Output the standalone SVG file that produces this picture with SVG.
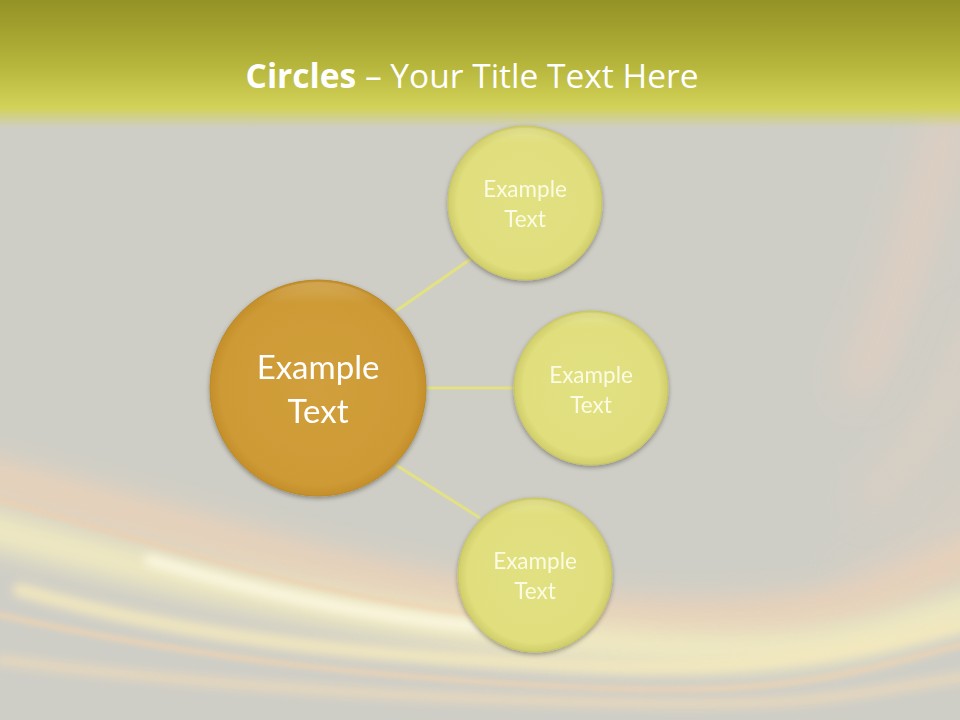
<svg xmlns="http://www.w3.org/2000/svg" width="960" height="720" viewBox="0 0 960 720">
<style>
.t{font-family:Lato,"Open Sans","Liberation Sans",sans-serif;fill:#ffffff;text-anchor:middle}
.big{font-size:33px}
.sm{font-size:22.5px;fill:#fbfbe4}
.conn{stroke:#e3e283;stroke-width:3;fill:none}
.sw{fill:none;stroke-linecap:round}
</style>
<defs>
<linearGradient id="hdr" x1="0" y1="0" x2="0" y2="1">
<stop offset="0" stop-color="#939225"/>
<stop offset="0.5" stop-color="#b5b43b"/>
<stop offset="0.84" stop-color="#d2d258"/>
<stop offset="1" stop-color="#d2d258" stop-opacity="0"/>
</linearGradient>
<radialGradient id="gOr" cx="0.5" cy="0.5" r="0.5">
<stop offset="0" stop-color="#d19f3c"/>
<stop offset="0.9" stop-color="#cd9a35"/>
<stop offset="1" stop-color="#c58f2a"/>
</radialGradient>
<radialGradient id="gYl" cx="0.5" cy="0.5" r="0.5">
<stop offset="0" stop-color="#e2e182"/>
<stop offset="0.88" stop-color="#e0de7d"/>
<stop offset="1" stop-color="#d0ce6a"/>
</radialGradient>
<linearGradient id="hl" x1="0" y1="0" x2="0" y2="1">
<stop offset="0" stop-color="#ffffff" stop-opacity="0.18"/>
<stop offset="0.1" stop-color="#ffffff" stop-opacity="0"/>
<stop offset="1" stop-color="#ffffff" stop-opacity="0"/>
</linearGradient>
<filter id="sh" x="-20%" y="-20%" width="140%" height="140%">
<feGaussianBlur in="SourceAlpha" stdDeviation="2.5"/>
<feOffset dx="0" dy="2"/>
<feComponentTransfer><feFuncA type="linear" slope="0.35"/></feComponentTransfer>
<feMerge><feMergeNode/><feMergeNode in="SourceGraphic"/></feMerge>
</filter>
<filter id="b12" filterUnits="userSpaceOnUse" x="-100" y="0" width="1160" height="820"><feGaussianBlur stdDeviation="12"/></filter>
<filter id="b18" filterUnits="userSpaceOnUse" x="-100" y="0" width="1160" height="820"><feGaussianBlur stdDeviation="18"/></filter>
<filter id="b5" filterUnits="userSpaceOnUse" x="-100" y="0" width="1160" height="820"><feGaussianBlur stdDeviation="5"/></filter>
<filter id="b2" filterUnits="userSpaceOnUse" x="-100" y="0" width="1160" height="820"><feGaussianBlur stdDeviation="2"/></filter>
</defs>
<rect width="960" height="720" fill="#cfcec6"/>
<g id="swoosh">
<path class="sw" d="M-40 470 C 180 520, 380 600, 620 615 S 900 580, 1000 540" stroke="#efd3b6" stroke-width="40" filter="url(#b12)" opacity="0.75"/>
<path class="sw" d="M-40 520 C 180 580, 380 625, 620 645 S 900 620, 1000 600" stroke="#f6efc0" stroke-width="36" filter="url(#b12)" opacity="0.85"/>
<path class="sw" d="M0 500 C 160 545, 320 600, 520 620" stroke="#f0cfae" stroke-width="4" filter="url(#b2)" opacity="0.8"/>
<path class="sw" d="M20 590 C 200 640, 360 655, 560 665 S 860 650, 980 620" stroke="#f5e9bd" stroke-width="14" filter="url(#b5)" opacity="0.85"/>
<path class="sw" d="M0 615 C 200 660, 400 680, 600 688 S 860 670, 980 640" stroke="#efd4b2" stroke-width="6" filter="url(#b2)" opacity="0.7"/>
<path class="sw" d="M0 660 C 200 685, 400 698, 620 703 S 860 690, 980 675" stroke="#f2dcb8" stroke-width="8" filter="url(#b5)" opacity="0.8"/>
<path class="sw" d="M150 560 C 300 605, 420 625, 560 633" stroke="#fbf8e2" stroke-width="12" filter="url(#b5)" opacity="0.9"/>
<path class="sw" d="M950 120 C 920 220, 900 300, 860 380" stroke="#ebcfc0" stroke-width="30" filter="url(#b18)" opacity="0.7"/>
<path class="sw" d="M975 330 C 950 400, 920 450, 870 500" stroke="#e7d0c0" stroke-width="26" filter="url(#b18)" opacity="0.55"/>
<path class="sw" d="M975 480 C 940 530, 900 560, 850 580" stroke="#e7d0c0" stroke-width="24" filter="url(#b18)" opacity="0.45"/>
</g>
<rect x="0" y="0" width="960" height="128" fill="url(#hdr)"/>
<text x="472" y="88" style="font-family:'Open Sans','Noto Sans','Liberation Sans',sans-serif;font-size:33.5px;fill:#ffffff;text-anchor:middle"><tspan font-weight="bold">Circles</tspan> – Your Title Text Here</text>
<g id="connectors">
<line class="conn" x1="396" y1="311" x2="472" y2="258"/>
<line class="conn" x1="426" y1="388" x2="514" y2="388"/>
<line class="conn" x1="396" y1="465" x2="480" y2="518"/>
</g>
<g id="center" filter="url(#sh)">
<circle cx="318" cy="388" r="108" fill="url(#gOr)" stroke="#b88a2a" stroke-width="1"/>
<circle cx="318" cy="388" r="106" fill="url(#hl)"/>
<text class="t big" x="318" y="379">Example</text>
<text class="t big" x="318" y="423">Text</text>
</g>
<g id="n1" filter="url(#sh)">
<circle cx="525" cy="203" r="77" fill="url(#gYl)" stroke="#c8c565" stroke-width="1"/>
<circle cx="525" cy="203" r="75" fill="url(#hl)"/>
<text class="t sm" x="525" y="197">Example</text>
<text class="t sm" x="525" y="227">Text</text>
</g>
<g id="n2" filter="url(#sh)">
<circle cx="591" cy="388" r="77" fill="url(#gYl)" stroke="#c8c565" stroke-width="1"/>
<circle cx="591" cy="388" r="75" fill="url(#hl)"/>
<text class="t sm" x="591" y="383">Example</text>
<text class="t sm" x="591" y="413">Text</text>
</g>
<g id="n3" filter="url(#sh)">
<circle cx="535" cy="575" r="77" fill="url(#gYl)" stroke="#c8c565" stroke-width="1"/>
<circle cx="535" cy="575" r="75" fill="url(#hl)"/>
<text class="t sm" x="535" y="569">Example</text>
<text class="t sm" x="535" y="599">Text</text>
</g>
</svg>
